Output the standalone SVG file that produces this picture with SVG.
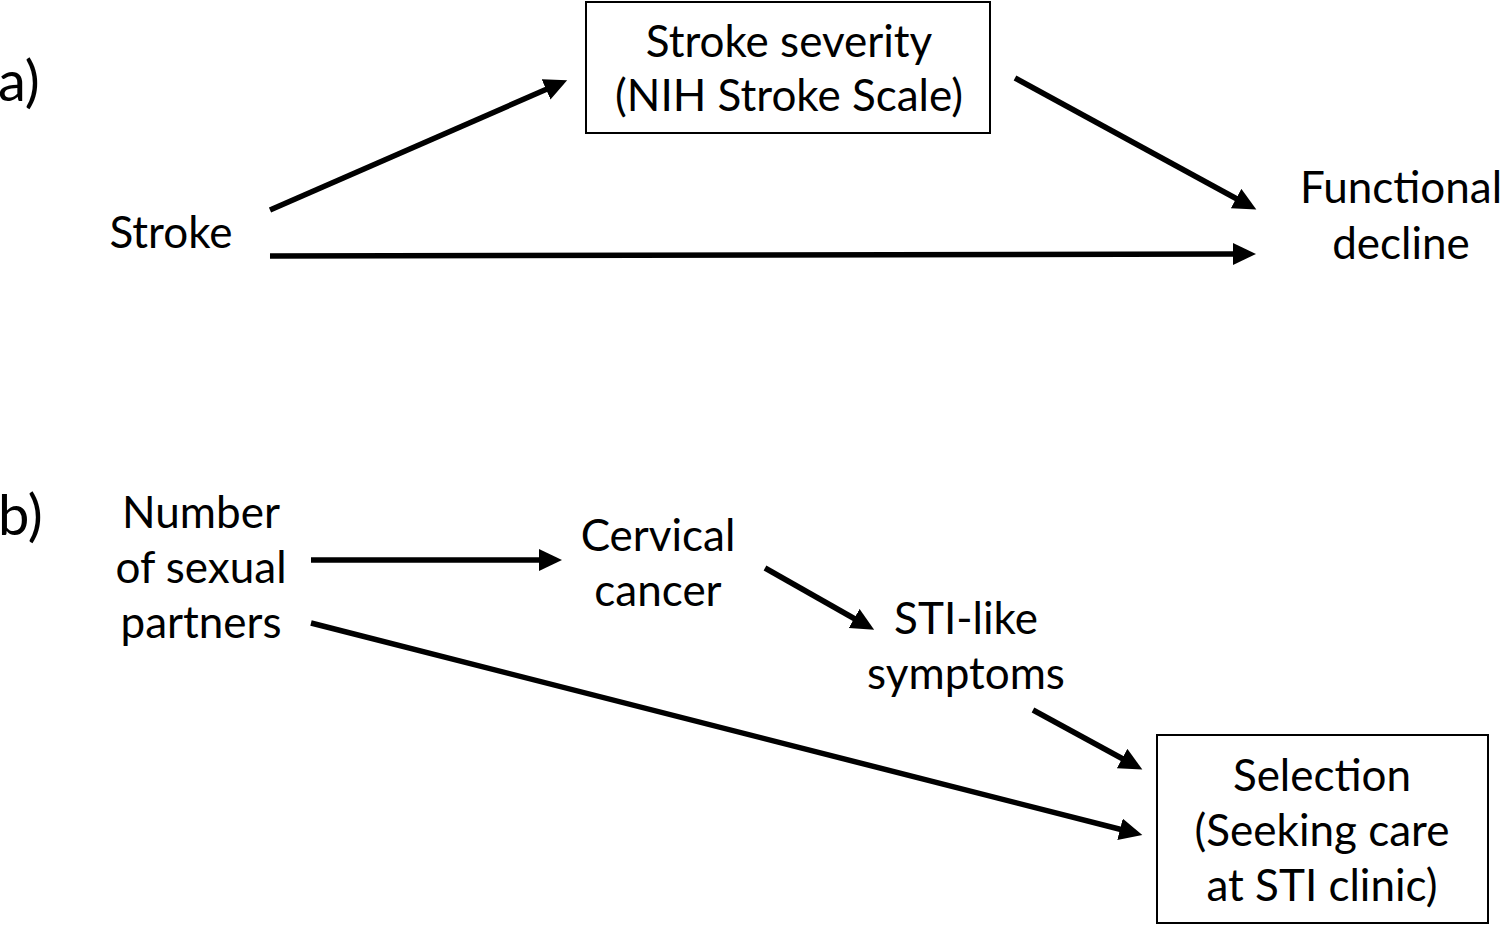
<svg xmlns="http://www.w3.org/2000/svg" width="1500" height="927" viewBox="0 0 1500 927">
<defs>
<style>
text{font-family:Lato,"Open Sans","Liberation Sans",sans-serif;font-size:44px;fill:#000;text-anchor:middle}
.lbl{font-size:56px;text-anchor:start}
.box{fill:#fff;stroke:#000;stroke-width:2}
.c{stroke:#000;stroke-width:5.5;fill:none;marker-end:url(#ah)}
</style>
<marker id="ah" markerUnits="userSpaceOnUse" markerWidth="26" markerHeight="24" refX="1" refY="11" orient="auto">
<path d="M0,0 L23,11 L0,22 z" fill="#000"/>
</marker>
</defs>
<rect width="1500" height="927" fill="#fff"/>
<text class="lbl" x="-2" y="101">a)</text>
<text class="lbl" x="-2" y="535">b)</text>
<g id="connectors">
<line class="c" x1="270" y1="210" x2="547" y2="89"/>
<line class="c" x1="1015" y1="78" x2="1237" y2="199"/>
<line class="c" x1="270" y1="256" x2="1234" y2="254"/>
<line class="c" x1="311" y1="560" x2="540" y2="560"/>
<line class="c" x1="311" y1="623" x2="1121" y2="829.5"/>
<line class="c" x1="765" y1="568" x2="855" y2="619"/>
<line class="c" x1="1033" y1="710" x2="1123" y2="759"/>
</g>
<g id="severity">
<rect class="box" x="586" y="2" width="404" height="131"/>
<text x="789" y="57">Stroke severity</text>
<text x="789" y="111">(NIH Stroke Scale)</text>
</g>
<g id="stroke"><text x="171" y="248">Stroke</text></g>
<g id="decline">
<text x="1401" y="203">Functional</text>
<text x="1401" y="259">decline</text>
</g>
<g id="partners">
<text x="201" y="528">Number</text>
<text x="201" y="583">of sexual</text>
<text x="201" y="638">partners</text>
</g>
<g id="cancer">
<text x="658" y="551">Cervical</text>
<text x="658" y="606">cancer</text>
</g>
<g id="symptoms">
<text x="966" y="634">STI-like</text>
<text x="966" y="689">symptoms</text>
</g>
<g id="selection">
<rect class="box" x="1157" y="735" width="331" height="188"/>
<text x="1322" y="791">Selection</text>
<text x="1322" y="846">(Seeking care</text>
<text x="1322" y="901">at STI clinic)</text>
</g>
</svg>
